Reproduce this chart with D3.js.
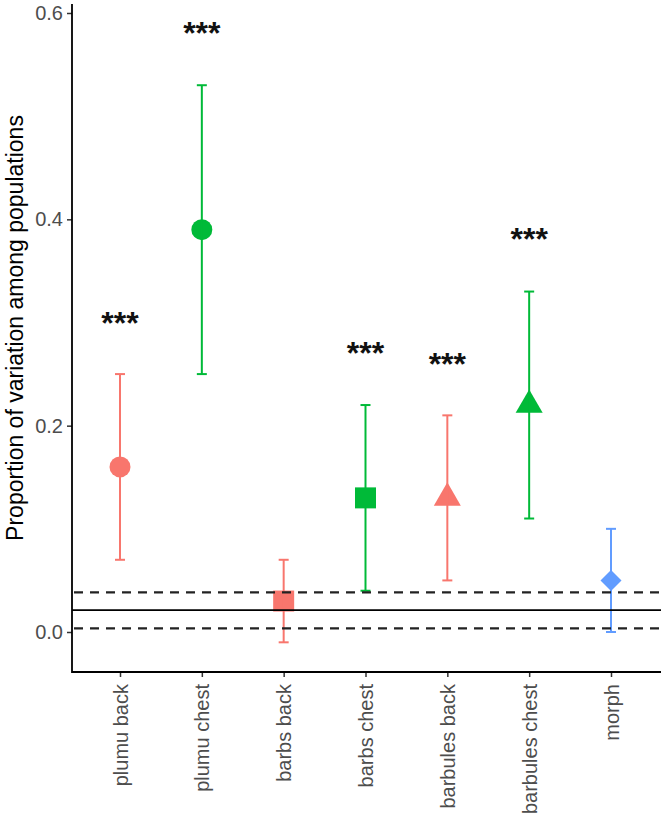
<!DOCTYPE html>
<meta charset="utf-8">
<style>
body { margin: 0; background: #fff; }
text { font-family: Arial, "Liberation Sans", sans-serif; }
.tick text { fill: #4d4d4d; }
</style>
<svg width="661" height="821"></svg>
<script src="https://d3js.org/d3.v7.min.js"></script>
<script>

var traits = ["plumu back", "plumu chest", "barbs back", "barbs chest", "barbules back", "barbules chest", "morph"];
var groups = ["back", "chest", "back", "chest", "back", "chest", "morph"];
var shapes = ["circle", "circle", "square", "square", "triangle", "triangle", "diamond"];
var estimate = [0.16, 0.39, 0.03, 0.13, 0.13, 0.22, 0.05];
var lower = [0.07, 0.25, -0.01, 0.04, 0.05, 0.11, 0.0];
var upper = [0.25, 0.53, 0.07, 0.22, 0.21, 0.33, 0.10];
var stars = ["***", "***", "", "***", "***", "***", ""];
var starY = [0.304, 0.585, null, 0.275, 0.265, 0.386, null];
var yTicks = [0.0, 0.2, 0.4, 0.6];
var nullMean = 0.0213, nullLow = 0.0036, nullHigh = 0.0385;

var svg = d3.select("svg");

var plotLeft = 72, plotRight = 661, plotTop = 4, plotBottom = 672;

var x = d3.scalePoint()
    .domain(traits)
    .range([120, 611]);

var y = d3.scaleLinear()
    .domain([0, 0.6])
    .range([632, 13]);

var color = d3.scaleOrdinal()
    .domain(["back", "chest", "morph"])
    .range(["#F8766D", "#00BA38", "#619CFF"]);

var symbolType = {
  circle: [d3.symbolCircle, 346, 0],
  square: [d3.symbolSquare, 441, 0],
  triangle: [d3.symbolTriangle, 316, 0],
  diamond: [d3.symbolSquare, 220, 45]
};

var data = traits.map(function(t, i) {
  return {trait: t, group: groups[i], shape: shapes[i], est: estimate[i],
          lo: lower[i], hi: upper[i], star: stars[i], starY: starY[i]};
});

// points
svg.append("g").selectAll("path")
  .data(data)
  .enter().append("path")
    .attr("d", function(d) { var s = symbolType[d.shape]; return d3.symbol().type(s[0]).size(s[1])(); })
    .attr("transform", function(d) {
      return "translate(" + x(d.trait) + "," + y(d.est) + ") rotate(" + symbolType[d.shape][2] + ")";
    })
    .attr("fill", function(d) { return color(d.group); });

// error bars
var eb = svg.append("g").selectAll("g")
  .data(data)
  .enter().append("g")
    .attr("stroke", function(d) { return color(d.group); })
    .attr("stroke-width", 2);

eb.append("line")
    .attr("x1", function(d) { return x(d.trait); })
    .attr("x2", function(d) { return x(d.trait); })
    .attr("y1", function(d) { return y(d.lo); })
    .attr("y2", function(d) { return y(d.hi); });

eb.selectAll(".cap")
  .data(function(d) { return [[d.trait, d.lo], [d.trait, d.hi]]; })
  .enter().append("line")
    .attr("class", "cap")
    .attr("x1", function(d) { return x(d[0]) - 5; })
    .attr("x2", function(d) { return x(d[0]) + 5; })
    .attr("y1", function(d) { return y(d[1]); })
    .attr("y2", function(d) { return y(d[1]); });

// null lines
svg.append("line")
    .attr("x1", plotLeft).attr("x2", plotRight)
    .attr("y1", y(nullMean)).attr("y2", y(nullMean))
    .attr("stroke", "#000").attr("stroke-width", 1.8);

svg.selectAll(".dash")
  .data([nullLow, nullHigh])
  .enter().append("line")
    .attr("class", "dash")
    .attr("x1", plotLeft + 2).attr("x2", plotRight)
    .attr("y1", function(d) { return y(d); })
    .attr("y2", function(d) { return y(d); })
    .attr("stroke", "#222").attr("stroke-width", 2.2)
    .attr("stroke-dasharray", "9,7");

// stars
svg.append("g").selectAll("text")
  .data(data.filter(function(d) { return d.star; }))
  .enter().append("text")
    .attr("x", function(d) { return x(d.trait); })
    .attr("y", function(d) { return y(d.starY); })
    .attr("dy", "0.5em")
    .attr("text-anchor", "middle")
    .attr("font-size", 32)
    .attr("font-weight", "bold")
    .attr("fill", "#111")
    .text(function(d) { return d.star; });

// axes
var yAxis = svg.append("g")
    .attr("transform", "translate(" + plotLeft + ",0)")
    .call(d3.axisLeft(y).tickValues(yTicks).tickFormat(d3.format(".1f")).tickSize(5).tickPadding(4));
yAxis.select(".domain").remove();
yAxis.selectAll(".tick line").attr("stroke", "#333").attr("stroke-width", 1.5);
yAxis.selectAll(".tick text").attr("font-size", 20);

var xAxis = svg.append("g")
    .attr("transform", "translate(0," + plotBottom + ")")
    .call(d3.axisBottom(x).tickSize(5).tickPadding(4));
xAxis.select(".domain").remove();
xAxis.selectAll(".tick line").attr("stroke", "#333").attr("stroke-width", 1.5);
xAxis.selectAll(".tick text")
    .attr("font-size", 20)
    .attr("text-anchor", "end")
    .attr("transform", "rotate(-90)")
    .attr("x", -12)
    .attr("y", 0)
    .attr("dy", "0.35em");

svg.append("path")
    .attr("d", "M" + plotLeft + "," + plotTop + "V" + plotBottom + "H" + plotRight)
    .attr("fill", "none")
    .attr("stroke", "#000")
    .attr("stroke-width", 1.8);

svg.append("text")
    .attr("transform", "translate(23," + ((plotTop + plotBottom) / 2 - 10) + ") rotate(-90)")
    .attr("text-anchor", "middle")
    .attr("font-size", 23)
    .attr("fill", "#000")
    .text("Proportion of variation among populations");

</script>
